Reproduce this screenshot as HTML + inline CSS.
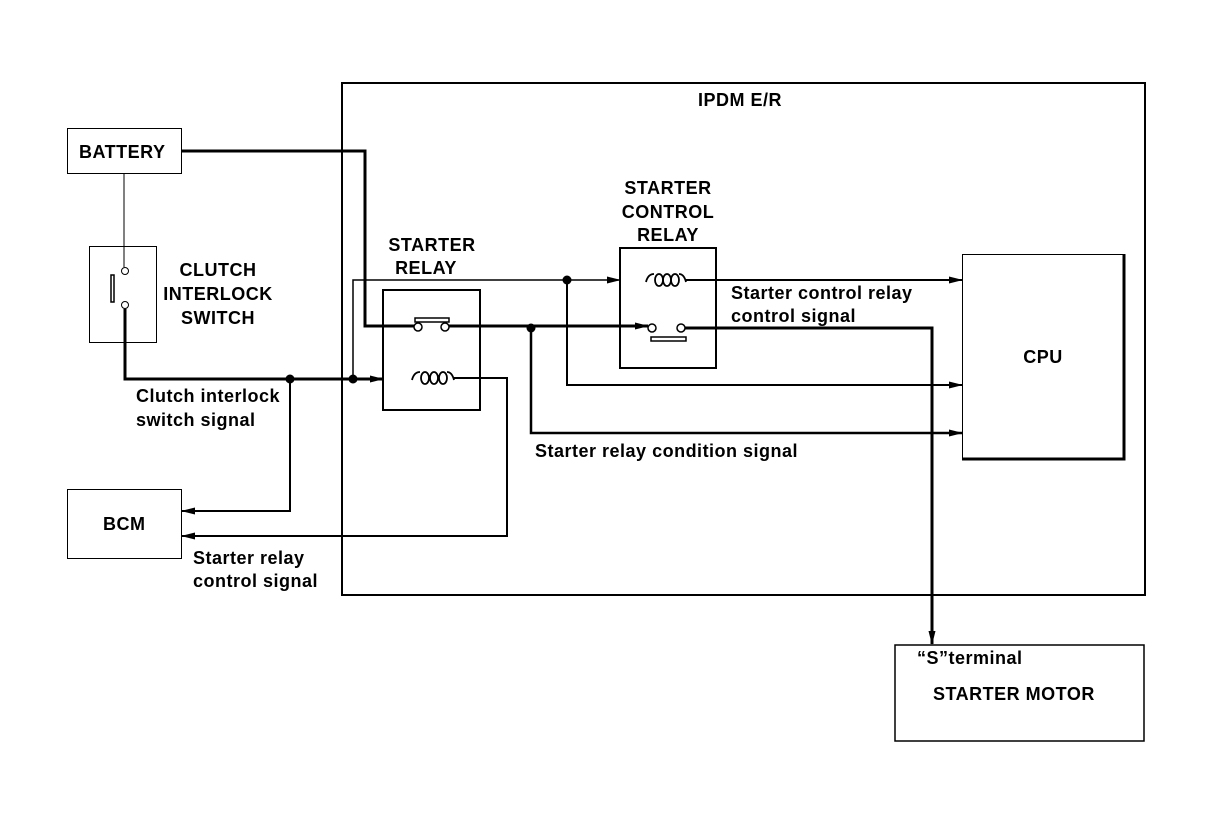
<!DOCTYPE html>
<html><head><meta charset="utf-8"><style>
html,body{margin:0;padding:0;background:#fff;}
svg{display:block;}
text{font-family:"Liberation Sans",sans-serif;font-size:18px;font-weight:bold;letter-spacing:0.5px;fill:#000;}
</style></head><body>
<svg width="1216" height="822" viewBox="0 0 1216 822" xmlns="http://www.w3.org/2000/svg">
<defs>
<marker id="a" markerWidth="14" markerHeight="8" refX="13" refY="4" orient="auto" markerUnits="userSpaceOnUse">
<path d="M0,0.5 L14,4 L0,7.5 Z" fill="#000"/></marker>
</defs>
<g fill="none" stroke="#000">
<rect x="342" y="83" width="803" height="512" stroke-width="2"/>
<rect x="67.5" y="128.5" width="114" height="45" stroke-width="1"/>
<rect x="89.5" y="246.5" width="67" height="96" stroke-width="1"/>
<rect x="67.5" y="489.5" width="114" height="69" stroke-width="1"/>
<rect x="383" y="290" width="97" height="120" stroke-width="2"/>
<rect x="620" y="248" width="96" height="120" stroke-width="2"/>
<rect x="962.5" y="254.5" width="161" height="204" stroke-width="1"/>
<path d="M1124,254 V459 H962" stroke-width="3"/>
<rect x="895" y="645" width="249" height="96" stroke-width="1.5"/>
<path d="M182,151 H365 V326 H418" stroke-width="3"/>
<path d="M449,326 H648" stroke-width="3" marker-end="url(#a)"/>
<path d="M685,328 H932 V644" stroke-width="3" marker-end="url(#a)"/>
<path d="M124,173 V267" stroke-width="1"/>
<path d="M125,309 V379 H383" stroke-width="3" marker-end="url(#a)"/>
<path d="M353,379 V280 H620" stroke-width="1.5" marker-end="url(#a)"/>
<path d="M686,280 H962" stroke-width="2" marker-end="url(#a)"/>
<path d="M567,280 V385 H962" stroke-width="2" marker-end="url(#a)"/>
<path d="M531,328 V433 H962" stroke-width="2.5" marker-end="url(#a)"/>
<path d="M290,379 V511 H182" stroke-width="2" marker-end="url(#a)"/>
<path d="M454,378 H507 V536 H182" stroke-width="2" marker-end="url(#a)"/>
</g>
<g fill="#fff" stroke="#000" stroke-width="1.5">
<circle cx="418" cy="327" r="4"/>
<circle cx="445" cy="327" r="4"/>
<rect x="415" y="318" width="34" height="4"/>
<circle cx="652" cy="328" r="4"/>
<circle cx="681" cy="328" r="4"/>
<rect x="651" y="337" width="35" height="4"/>
<circle cx="125" cy="271" r="3.5" stroke-width="1"/>
<circle cx="125" cy="305" r="3.5" stroke-width="1"/>
<rect x="111" y="275" width="3" height="27"/>
</g>
<g fill="none" stroke="#000" stroke-width="1.8">
<path d="M412,380 q2,-8 8,-8"/>
<ellipse cx="425" cy="378" rx="4" ry="6"/><ellipse cx="434" cy="378" rx="4" ry="6"/><ellipse cx="443" cy="378" rx="4" ry="6"/>
<path d="M447,372 q5,0 7,8"/>
<path d="M646,282 q2,-8 8,-8"/>
<ellipse cx="659" cy="280" rx="4" ry="6"/><ellipse cx="667" cy="280" rx="4" ry="6"/><ellipse cx="675" cy="280" rx="4" ry="6"/>
<path d="M679,274 q5,0 7,8"/>
</g>
<g fill="#000">
<circle cx="290" cy="379" r="4.5"/><circle cx="353" cy="379" r="4.5"/>
<circle cx="567" cy="280" r="4.5"/><circle cx="531" cy="328" r="4.5"/>
</g>
<text x="79" y="158">BATTERY</text>
<text x="103" y="530">BCM</text>
<text x="698" y="106">IPDM E/R</text>
<text x="218" y="276" text-anchor="middle">CLUTCH</text>
<text x="218" y="300" text-anchor="middle">INTERLOCK</text>
<text x="218" y="324" text-anchor="middle">SWITCH</text>
<text x="432" y="251" text-anchor="middle">STARTER</text>
<text x="426" y="274" text-anchor="middle">RELAY</text>
<text x="668" y="194" text-anchor="middle">STARTER</text>
<text x="668" y="218" text-anchor="middle">CONTROL</text>
<text x="668" y="241" text-anchor="middle">RELAY</text>
<text x="1043" y="363" text-anchor="middle">CPU</text>
<text x="731" y="299">Starter control relay</text>
<text x="731" y="322">control signal</text>
<text x="136" y="402">Clutch interlock</text>
<text x="136" y="426">switch signal</text>
<text x="535" y="457">Starter relay condition signal</text>
<text x="193" y="564">Starter relay</text>
<text x="193" y="587">control signal</text>
<text x="917" y="664">“S”terminal</text>
<text x="933" y="700">STARTER MOTOR</text>
</svg>
</body></html>
